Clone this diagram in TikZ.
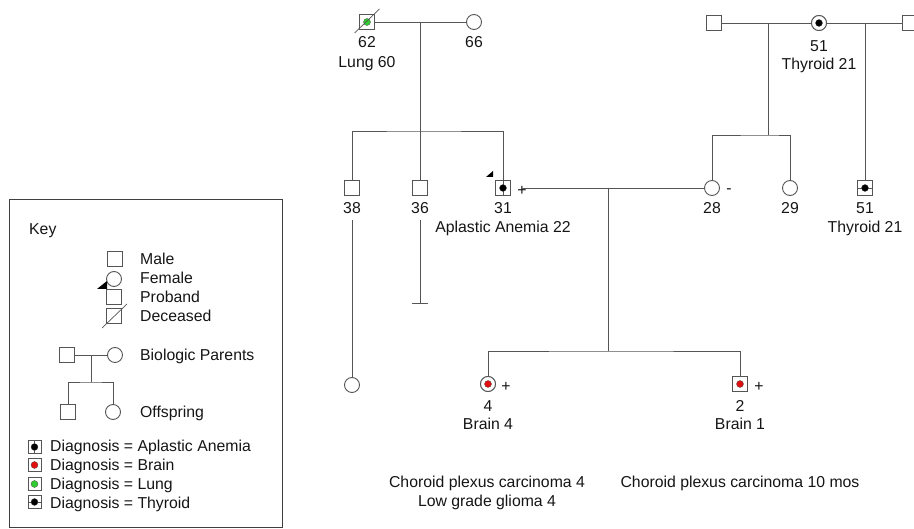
\documentclass[tikz,border=0pt]{standalone}
\usepackage{fontspec}
\setmainfont{Liberation Sans}
\definecolor{lc}{HTML}{555555}
\definecolor{tc}{HTML}{151515}
\definecolor{redd}{HTML}{E01010}
\definecolor{grnd}{HTML}{30CC30}
\begin{document}
\begin{tikzpicture}[x=1pt,y=-1pt,
  ln/.style={draw=lc, line width=0.9pt},
  male/.style={rectangle, draw=lc, line width=0.9pt, fill=white, minimum size=15pt, inner sep=0pt},
  female/.style={circle, draw=lc, line width=0.9pt, fill=white, minimum size=15pt, inner sep=0pt},
  kbox/.style={male, minimum size=13pt},
  dotc/.style={circle, fill=#1, draw=black!70, line width=0.3pt, inner sep=0pt, minimum size=7pt},
  txt/.style={font=\fontsize{15.8}{18}\selectfont, text=tc, inner sep=0pt, text height=11.3pt, text depth=0pt},
  ltxt/.style={txt, anchor=west}
]
\useasboundingbox (0,0) rectangle (914,529);

% ---------- coordinates for connectors ----------
\coordinate (m1) at (420,22);
\coordinate (s1) at (420,131);
\coordinate (m2) at (768,23);
\coordinate (s2) at (768,135);
\coordinate (m3) at (865,23);
\coordinate (m4) at (608,188);
\coordinate (s3) at (608,351);
\coordinate (t38) at (352,220);
\coordinate (t36) at (420,220);
\coordinate (e36) at (420,303);

% ---------- people ----------
\node[male] (p62) at (367,22) {};
\node[female] (p66) at (474,22) {};
\node[male] (pA) at (714,23) {};
\node[female] (pB) at (819,23) {};
\node[male] (pC) at (910,23) {};
\node[male] (p38) at (352,188) {};
\node[male] (p36) at (420,188) {};
\node[male] (p31) at (503,188) {};
\node[female] (p28) at (712,188) {};
\node[female] (p29) at (790,188) {};
\node[male] (p51) at (865,188) {};
\node[female] (p38s) at (352,385) {};
\node[female] (p4) at (488,384) {};
\node[male] (p2) at (740,384) {};

% ---------- signs ----------
\node[txt] (plus31) at (522,190) {+};
\node[txt] (minus28) at (729,188) {-};
\node[txt] (plus4) at (506,386) {+};
\node[txt] (plus2) at (759,386) {+};

% ---------- connectors ----------
\draw[ln] (p62) -- (p66);
\draw[ln] (m1) -- (p36.north);
\draw[ln] (p38.north) |- (s1) -| (p31.north);
\draw[ln] (plus31.center |- p28.west) -- (p28.west);
\draw[ln] (m4) -- (s3);
\draw[ln] (p4.north) |- (s3) -| (p2.north);
\draw[ln] (pA) -- (pB);
\draw[ln] (pB) -- (pC);
\draw[ln] (m2) -- (s2);
\draw[ln] (p28.north) |- (s2) -| (p29.north);
\draw[ln] (m3) -- (p51.north);
\draw[ln] (t38) -- (p38s.north);
\draw[ln] (t36) -- (e36);
\draw[ln] ([xshift=-8pt]e36) -- ([xshift=8pt]e36);

% redraw symbols on top
\node[male] at (p62) {};
\node[dotc=grnd] at (p62) {};
\draw[ln, line width=0.7pt] ([shift={(-12.5,11)}]p62.center) -- ([shift={(12.5,-13)}]p62.center);
\node[male] at (p31) {};
\draw[ln, line width=0.7pt] (p31.north) -- (p31.south);
\node[dotc=black] at (p31) {};
\fill[black] (486,177) -- (493,171) -- (493,177) -- cycle;
\node[female] at (pB) {};
\node[dotc=black] at (pB) {};
\node[male] at (p51) {};
\draw[ln, line width=0.7pt] (p51.west) -- (p51.east);
\node[dotc=black] at (p51) {};
\node[female] at (p4) {};
\node[dotc=redd] at (p4) {};
\node[male] at (p2) {};
\node[dotc=redd] at (p2) {};

% ---------- labels ----------
\node[txt] (l62) at (367,42) {62};
\node[txt] (d62) at (367,62) {Lung 60};
\node[txt] (l66) at (474,42) {66};
\node[txt] (lB) at (819,46) {51};
\node[txt] (dB) at (819,64) {Thyroid 21};
\node[txt] (l38) at (352,208) {38};
\node[txt] (l36) at (420,208) {36};
\node[txt] (l31) at (503,208) {31};
\node[txt] (d31) at (503,227) {Aplastic Anemia 22};
\node[txt] (l28) at (712,208) {28};
\node[txt] (l29) at (790,208) {29};
\node[txt] (l51) at (865,208) {51};
\node[txt] (d51) at (865,227) {Thyroid 21};
\node[txt] (l4) at (488,406) {4};
\node[txt] (d4) at (488,424) {Brain 4};
\node[txt] (l2) at (740,406) {2};
\node[txt] (d2) at (740,424) {Brain 1};
\node[txt] (n4a) at (487,482) {Choroid plexus carcinoma 4};
\node[txt] (n4b) at (487,501) {Low grade glioma 4};
\node[txt] (n2a) at (740,482) {Choroid plexus carcinoma 10 mos};

% ---------- key ----------
\draw[draw=black!75, line width=1pt] (9,200) rectangle (282,527);
\node[ltxt] (kkey) at (29,229) {Key};
\node[male] (kmale) at (114.5,259) {};
\node[ltxt] (kmalet) at (140,259) {Male};
\node[female] (kfem) at (114,279) {};
\node[ltxt] (kfemt) at (140,278) {Female};
\node[male] (kprob) at (114,297) {};
\fill[black] (97,289) -- (107,281) -- (107,289) -- cycle;
\node[ltxt] (kprobt) at (140,297) {Proband};
\node[male] (kdec) at (114,316) {};
\draw[ln, line width=0.7pt] (102,328) -- (127,304);
\node[ltxt] (kdect) at (140,316) {Deceased};

\node[male] (kbf) at (66.5,355) {};
\node[female] (kbm) at (115,355) {};
\coordinate (kbmid) at (91,355);
\coordinate (kbs) at (91,382);
\node[male] (kc1) at (68,412) {};
\node[female] (kc2) at (113,412) {};
\draw[ln] (kbf) -- (kbm);
\draw[ln] (kbmid) -- (kbs);
\draw[ln] (kc1.north) |- (kbs) -| (kc2.north);
\node[ltxt] (kbt) at (140,355) {Biologic Parents};
\node[ltxt] (kct) at (140,412) {Offspring};

\node[kbox] (kd1) at (34.5,447) {};
\draw[ln, line width=0.7pt] (kd1.north) -- (kd1.south);
\node[dotc=black] at (kd1) {};
\node[ltxt] (kd1t) at (50,446) {Diagnosis = Aplastic Anemia};
\node[kbox] (kd2) at (34.5,465) {};
\node[dotc=redd] at (kd2) {};
\node[ltxt] (kd2t) at (50,465) {Diagnosis = Brain};
\node[kbox] (kd3) at (34.5,484) {};
\node[dotc=grnd] at (kd3) {};
\node[ltxt] (kd3t) at (50,484) {Diagnosis = Lung};
\node[kbox] (kd4) at (34.5,502) {};
\draw[ln, line width=0.7pt] (kd4.west) -- (kd4.east);
\node[dotc=black] at (kd4) {};
\node[ltxt] (kd4t) at (50,503) {Diagnosis = Thyroid};
\end{tikzpicture}
\end{document}
